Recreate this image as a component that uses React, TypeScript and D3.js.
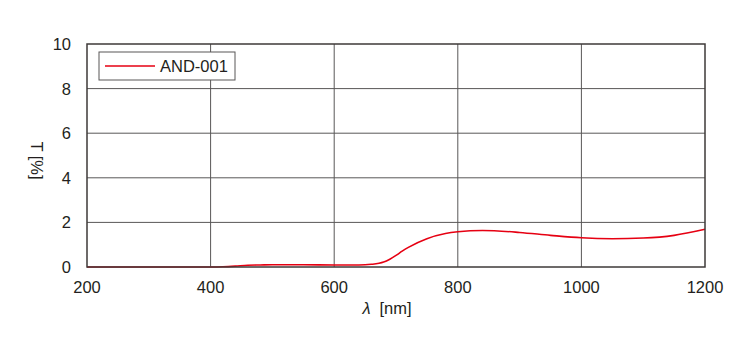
import { useEffect, useRef } from 'react';
import * as d3 from 'd3';

// wavelength [nm] and transmittance [%]
const wavelengths = [200, 250, 300, 350, 400, 420, 440, 460, 480, 500, 550, 600, 640, 660, 680, 690, 700, 710, 720, 750, 780, 800, 840, 900, 950, 1000, 1050, 1100, 1150, 1200];
const transmittance = [0, 0, 0, 0, 0, 0.01, 0.04, 0.08, 0.09, 0.1, 0.1, 0.09, 0.09, 0.12, 0.22, 0.35, 0.52, 0.71, 0.88, 1.27, 1.5, 1.58, 1.64, 1.55, 1.42, 1.31, 1.27, 1.3, 1.42, 1.69];

const xTicks = [200, 400, 600, 800, 1000, 1200];
const yTicks = [0, 2, 4, 6, 8, 10];
const seriesName = 'AND-001';

const App = () => {
  const svgRef = useRef<SVGSVGElement>(null);
  const width = 750;
  const height = 350;

  useEffect(() => {
    if (!svgRef.current) return;
    const svg = d3.select(svgRef.current);
    svg.selectAll('*').remove();

    const margin = { top: 44, right: 45, bottom: 83, left: 87 };
    const innerWidth = width - margin.left - margin.right;
    const innerHeight = height - margin.top - margin.bottom;
    const font = 'Helvetica, Arial, "Liberation Sans", sans-serif';
    const textColor = '#231f20';
    const fontSize = '16.5px';

    const x = d3.scaleLinear().domain([200, 1200]).range([0, innerWidth]);
    const y = d3.scaleLinear().domain([0, 10]).range([innerHeight, 0]);

    const g = svg.append('g')
      .attr('transform', `translate(${margin.left},${margin.top})`);

    // grid
    g.selectAll('.vgrid')
      .data(xTicks.slice(1, -1))
      .join('line')
      .attr('x1', d => x(d)).attr('x2', d => x(d))
      .attr('y1', 0).attr('y2', innerHeight)
      .attr('stroke', '#595757')
      .attr('stroke-width', 1);

    g.selectAll('.hgrid')
      .data(yTicks.slice(1, -1))
      .join('line')
      .attr('x1', 0).attr('x2', innerWidth)
      .attr('y1', d => y(d)).attr('y2', d => y(d))
      .attr('stroke', '#595757')
      .attr('stroke-width', 1);

    // tick labels
    g.selectAll('.xlab')
      .data(xTicks)
      .join('text')
      .attr('x', d => x(d))
      .attr('y', innerHeight + 26)
      .attr('text-anchor', 'middle')
      .style('font-family', font)
      .style('font-size', fontSize)
      .style('fill', textColor)
      .text(d => d);

    g.selectAll('.ylab')
      .data(yTicks)
      .join('text')
      .attr('x', -16)
      .attr('y', d => y(d) + 6)
      .attr('text-anchor', 'end')
      .style('font-family', font)
      .style('font-size', fontSize)
      .style('fill', textColor)
      .text(d => d);

    // axis titles
    const xTitle = g.append('text')
      .attr('x', innerWidth / 2 - 9)
      .attr('y', innerHeight + 47)
      .attr('text-anchor', 'middle')
      .style('font-family', font)
      .style('font-size', fontSize)
      .style('fill', textColor);
    xTitle.append('tspan').style('font-style', 'italic').text('λ');
    xTitle.append('tspan').attr('dx', 9).text('[nm]');

    g.append('text')
      .attr('transform', `translate(${-56},${innerHeight / 2 + 5}) rotate(90)`)
      .attr('text-anchor', 'middle')
      .style('font-family', font)
      .style('font-size', fontSize)
      .style('fill', textColor)
      .text('T [%]');

    // curve
    const pts = wavelengths.map((w, i) => [w, transmittance[i]] as [number, number]);
    const line = d3.line<[number, number]>()
      .x(d => x(d[0]))
      .y(d => y(d[1]))
      .curve(d3.curveMonotoneX);

    g.append('path')
      .datum(pts)
      .attr('d', line)
      .attr('fill', 'none')
      .attr('stroke', '#e60012')
      .attr('stroke-width', 1.6);

    // frame
    g.append('rect')
      .attr('x', 0).attr('y', 0)
      .attr('width', innerWidth).attr('height', innerHeight)
      .attr('fill', 'none')
      .attr('stroke', '#3e3a39')
      .attr('stroke-width', 1.5);

    // legend
    const legend = g.append('g').attr('transform', 'translate(12,8)');
    legend.append('rect')
      .attr('x', 0).attr('y', 0)
      .attr('width', 136).attr('height', 28)
      .attr('fill', '#fff')
      .attr('stroke', '#595757')
      .attr('stroke-width', 1);
    legend.append('line')
      .attr('x1', 6).attr('x2', 56)
      .attr('y1', 14).attr('y2', 14)
      .attr('stroke', '#e60012')
      .attr('stroke-width', 1.6);
    legend.append('text')
      .attr('x', 61).attr('y', 20)
      .style('font-family', font)
      .style('font-size', fontSize)
      .style('fill', textColor)
      .text(seriesName);
  }, []);

  return <svg ref={svgRef} width={width} height={height} style={{ display: 'block', margin: '-8px' }} />;
};

export default App;
